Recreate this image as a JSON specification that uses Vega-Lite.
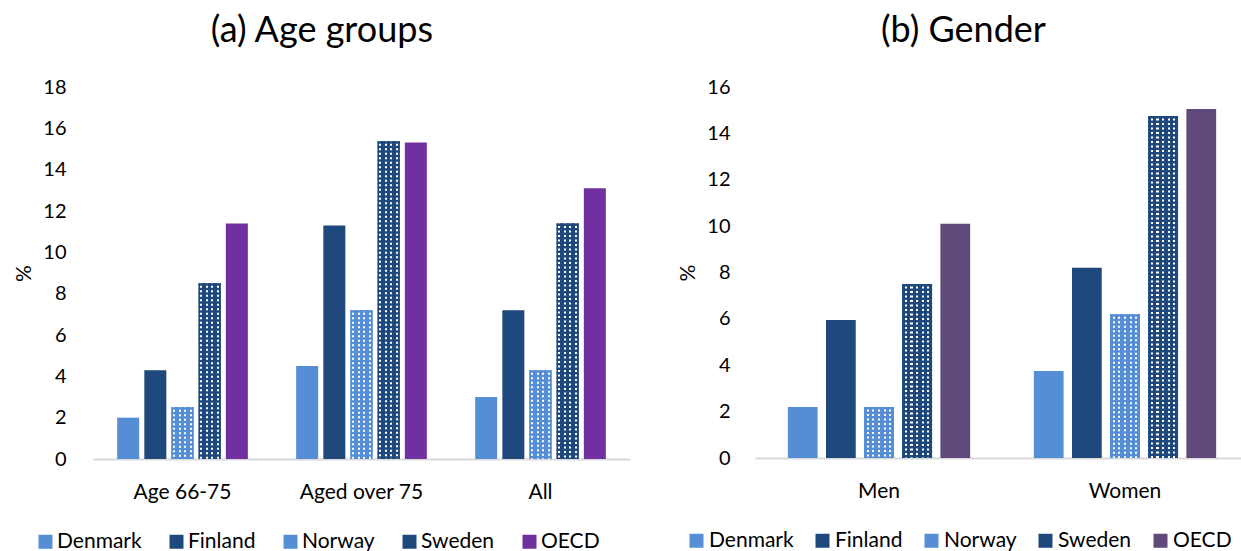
{
  "$schema": "https://vega.github.io/schema/vega-lite/v6.json",
  "padding": {"left": 13, "top": 13, "right": 0, "bottom": 0},
  "background": "white",
  "config": {
    "font": "Lato",
    "view": {"stroke": null},
    "axis": {"labelFont": "Lato", "titleFont": "Lato", "labelColor": "#000", "titleColor": "#000"},
    "legend": {"labelFont": "Lato", "labelColor": "#000"},
    "title": {"font": "Lato", "color": "#000", "fontWeight": "normal"}
  },
  "datasets": {
    "age": [
      {"group": "Age 66-75", "country": "Denmark", "value": 2.0},
      {"group": "Age 66-75", "country": "Finland", "value": 4.3},
      {"group": "Age 66-75", "country": "Norway", "value": 2.5},
      {"group": "Age 66-75", "country": "Sweden", "value": 8.5},
      {"group": "Age 66-75", "country": "OECD", "value": 11.4},
      {"group": "Aged over 75", "country": "Denmark", "value": 4.5},
      {"group": "Aged over 75", "country": "Finland", "value": 11.3},
      {"group": "Aged over 75", "country": "Norway", "value": 7.2},
      {"group": "Aged over 75", "country": "Sweden", "value": 15.37},
      {"group": "Aged over 75", "country": "OECD", "value": 15.32},
      {"group": "All", "country": "Denmark", "value": 3.0},
      {"group": "All", "country": "Finland", "value": 7.2},
      {"group": "All", "country": "Norway", "value": 4.3},
      {"group": "All", "country": "Sweden", "value": 11.4},
      {"group": "All", "country": "OECD", "value": 13.1}
    ],
    "gender": [
      {"group": "Men", "country": "Denmark", "value": 2.2},
      {"group": "Men", "country": "Finland", "value": 5.95},
      {"group": "Men", "country": "Norway", "value": 2.2},
      {"group": "Men", "country": "Sweden", "value": 7.5},
      {"group": "Men", "country": "OECD", "value": 10.1},
      {"group": "Women", "country": "Denmark", "value": 3.75},
      {"group": "Women", "country": "Finland", "value": 8.2},
      {"group": "Women", "country": "Norway", "value": 6.2},
      {"group": "Women", "country": "Sweden", "value": 14.75},
      {"group": "Women", "country": "OECD", "value": 15.05}
    ]
  },
  "spacing": 47,
  "resolve": {"scale": {"color": "independent", "y": "independent", "x": "independent", "xOffset": "independent"}, "legend": {"color": "independent"}},
  "hconcat": [
    {
      "width": 537,
      "height": 372,
      "title": {"text": "(a) Age groups", "fontSize": 36, "offset": 27, "anchor": "middle", "frame": "bounds"},
      "data": {"name": "age"},
      "encoding": {
        "x": {"field": "group", "type": "nominal", "sort": ["Age 66-75", "Aged over 75", "All"], "title": null,
              "scale": {"paddingInner": 0.27, "paddingOuter": 0.135},
              "axis": {"labelAngle": 0, "labelFontSize": 21, "labelPadding": 22, "ticks": false, "domainColor": "#D9D9D9", "domainWidth": 2}},
        "xOffset": {"field": "country", "type": "nominal", "sort": ["Denmark", "Finland", "Norway", "Sweden", "OECD"],
                    "scale": {"paddingInner": 0.19, "paddingOuter": 0}},
        "y": {"field": "value", "type": "quantitative", "scale": {"domain": [0, 18], "nice": false},
              "axis": {"values": [0, 2, 4, 6, 8, 10, 12, 14, 16, 18], "title": "%", "titleFontSize": 21, "titleFontWeight": "normal", "titlePadding": 8,
                       "labelFontSize": 20, "labelPadding": 27, "ticks": false, "domain": false, "grid": false}}
      },
      "layer": [
        {
          "mark": {"type": "bar"},
          "encoding": {
            "color": {"field": "country", "type": "nominal",
                      "scale": {"domain": ["Denmark", "Finland", "Norway", "Sweden", "OECD"], "range": ["#558ED5", "#1F497D", "#558ED5", "#1F497D", "#7030A0"]},
                      "legend": {"orient": "none", "legendX": -58, "legendY": 444, "direction": "horizontal", "title": null, "symbolType": "square", "symbolSize": 196, "symbolStrokeWidth": 0,
                                 "labelFontSize": 21, "columnPadding": 24, "labelOffset": 1}}
          }
        },
        {
          "transform": [{"filter": "datum.country === 'Norway'"}],
          "mark": {"type": "bar", "fill": {"gradient": "linear", "x1": 0, "y1": 0, "x2": 1, "y2": 0, "stops": [
            {"offset": 0, "color": "#558ED5"}, {"offset": 0.08, "color": "#558ED5"}, {"offset": 0.08, "color": "#ffffff"}, {"offset": 0.17, "color": "#ffffff"},
            {"offset": 0.17, "color": "#558ED5"}, {"offset": 0.33, "color": "#558ED5"}, {"offset": 0.33, "color": "#ffffff"}, {"offset": 0.42, "color": "#ffffff"},
            {"offset": 0.42, "color": "#558ED5"}, {"offset": 0.58, "color": "#558ED5"}, {"offset": 0.58, "color": "#ffffff"}, {"offset": 0.67, "color": "#ffffff"},
            {"offset": 0.67, "color": "#558ED5"}, {"offset": 0.83, "color": "#558ED5"}, {"offset": 0.83, "color": "#ffffff"}, {"offset": 0.92, "color": "#ffffff"},
            {"offset": 0.92, "color": "#558ED5"}, {"offset": 1, "color": "#558ED5"}]}}
        },
        {
          "transform": [{"filter": "datum.country === 'Sweden'"}],
          "mark": {"type": "bar", "fill": {"gradient": "linear", "x1": 0, "y1": 0, "x2": 1, "y2": 0, "stops": [
            {"offset": 0, "color": "#1F497D"}, {"offset": 0.08, "color": "#1F497D"}, {"offset": 0.08, "color": "#ffffff"}, {"offset": 0.17, "color": "#ffffff"},
            {"offset": 0.17, "color": "#1F497D"}, {"offset": 0.33, "color": "#1F497D"}, {"offset": 0.33, "color": "#ffffff"}, {"offset": 0.42, "color": "#ffffff"},
            {"offset": 0.42, "color": "#1F497D"}, {"offset": 0.58, "color": "#1F497D"}, {"offset": 0.58, "color": "#ffffff"}, {"offset": 0.67, "color": "#ffffff"},
            {"offset": 0.67, "color": "#1F497D"}, {"offset": 0.83, "color": "#1F497D"}, {"offset": 0.83, "color": "#ffffff"}, {"offset": 0.92, "color": "#ffffff"},
            {"offset": 0.92, "color": "#1F497D"}, {"offset": 1, "color": "#1F497D"}]}}
        },
        {
          "transform": [{"filter": "datum.country === 'Norway'"}],
          "mark": {"type": "rule", "stroke": "#558ED5", "strokeWidth": 22, "strokeDash": [2.5, 2], "strokeCap": "butt"},
          "encoding": {"y2": {"datum": 0}}
        },
        {
          "transform": [{"filter": "datum.country === 'Sweden'"}],
          "mark": {"type": "rule", "stroke": "#1F497D", "strokeWidth": 22, "strokeDash": [2.5, 2], "strokeCap": "butt"},
          "encoding": {"y2": {"datum": 0}}
        }
      ]
    },
    {
      "width": 494,
      "height": 371,
      "title": {"text": "(b) Gender", "fontSize": 36, "offset": 27, "anchor": "middle", "frame": "bounds"},
      "data": {"name": "gender"},
      "encoding": {
        "x": {"field": "group", "type": "nominal", "sort": ["Men", "Women"], "title": null,
              "scale": {"paddingInner": 0.259, "paddingOuter": 0.1336},
              "axis": {"labelAngle": 0, "labelFontSize": 21, "labelPadding": 22, "ticks": false, "domainColor": "#D9D9D9", "domainWidth": 2}},
        "xOffset": {"field": "country", "type": "nominal", "sort": ["Denmark", "Finland", "Norway", "Sweden", "OECD"],
                    "scale": {"paddingInner": 0.22, "paddingOuter": 0}},
        "y": {"field": "value", "type": "quantitative", "scale": {"domain": [0, 16], "nice": false},
              "axis": {"values": [0, 2, 4, 6, 8, 10, 12, 14, 16], "title": "%", "titleFontSize": 21, "titleFontWeight": "normal", "titlePadding": 8,
                       "labelFontSize": 20, "labelPadding": 25, "ticks": false, "domain": false, "grid": false}}
      },
      "layer": [
        {
          "mark": {"type": "bar"},
          "encoding": {
            "color": {"field": "country", "type": "nominal",
                      "scale": {"domain": ["Denmark", "Finland", "Norway", "Sweden", "OECD"], "range": ["#558ED5", "#1F497D", "#558ED5", "#1F497D", "#604A7B"]},
                      "legend": {"orient": "none", "legendX": -69, "legendY": 443, "direction": "horizontal", "title": null, "symbolType": "square", "symbolSize": 196, "symbolStrokeWidth": 0,
                                 "labelFontSize": 21, "columnPadding": 18, "labelOffset": 2}}
          }
        },
        {
          "transform": [{"filter": "datum.country === 'Norway'"}],
          "mark": {"type": "bar", "fill": {"gradient": "linear", "x1": 0, "y1": 0, "x2": 1, "y2": 0, "stops": [
            {"offset": 0, "color": "#558ED5"}, {"offset": 0.085, "color": "#558ED5"}, {"offset": 0.085, "color": "#ffffff"}, {"offset": 0.155, "color": "#ffffff"},
            {"offset": 0.155, "color": "#558ED5"}, {"offset": 0.275, "color": "#558ED5"}, {"offset": 0.275, "color": "#ffffff"}, {"offset": 0.345, "color": "#ffffff"},
            {"offset": 0.345, "color": "#558ED5"}, {"offset": 0.465, "color": "#558ED5"}, {"offset": 0.465, "color": "#ffffff"}, {"offset": 0.535, "color": "#ffffff"},
            {"offset": 0.535, "color": "#558ED5"}, {"offset": 0.655, "color": "#558ED5"}, {"offset": 0.655, "color": "#ffffff"}, {"offset": 0.725, "color": "#ffffff"},
            {"offset": 0.725, "color": "#558ED5"}, {"offset": 0.845, "color": "#558ED5"}, {"offset": 0.845, "color": "#ffffff"}, {"offset": 0.915, "color": "#ffffff"},
            {"offset": 0.915, "color": "#558ED5"}, {"offset": 1, "color": "#558ED5"}]}}
        },
        {
          "transform": [{"filter": "datum.country === 'Sweden'"}],
          "mark": {"type": "bar", "fill": {"gradient": "linear", "x1": 0, "y1": 0, "x2": 1, "y2": 0, "stops": [
            {"offset": 0, "color": "#1F497D"}, {"offset": 0.085, "color": "#1F497D"}, {"offset": 0.085, "color": "#ffffff"}, {"offset": 0.155, "color": "#ffffff"},
            {"offset": 0.155, "color": "#1F497D"}, {"offset": 0.275, "color": "#1F497D"}, {"offset": 0.275, "color": "#ffffff"}, {"offset": 0.345, "color": "#ffffff"},
            {"offset": 0.345, "color": "#1F497D"}, {"offset": 0.465, "color": "#1F497D"}, {"offset": 0.465, "color": "#ffffff"}, {"offset": 0.535, "color": "#ffffff"},
            {"offset": 0.535, "color": "#1F497D"}, {"offset": 0.655, "color": "#1F497D"}, {"offset": 0.655, "color": "#ffffff"}, {"offset": 0.725, "color": "#ffffff"},
            {"offset": 0.725, "color": "#1F497D"}, {"offset": 0.845, "color": "#1F497D"}, {"offset": 0.845, "color": "#ffffff"}, {"offset": 0.915, "color": "#ffffff"},
            {"offset": 0.915, "color": "#1F497D"}, {"offset": 1, "color": "#1F497D"}]}}
        },
        {
          "transform": [{"filter": "datum.country === 'Norway'"}],
          "mark": {"type": "rule", "stroke": "#558ED5", "strokeWidth": 30, "strokeDash": [2.5, 2], "strokeCap": "butt"},
          "encoding": {"y2": {"datum": 0}}
        },
        {
          "transform": [{"filter": "datum.country === 'Sweden'"}],
          "mark": {"type": "rule", "stroke": "#1F497D", "strokeWidth": 30, "strokeDash": [2.5, 2], "strokeCap": "butt"},
          "encoding": {"y2": {"datum": 0}}
        }
      ]
    }
  ]
}
